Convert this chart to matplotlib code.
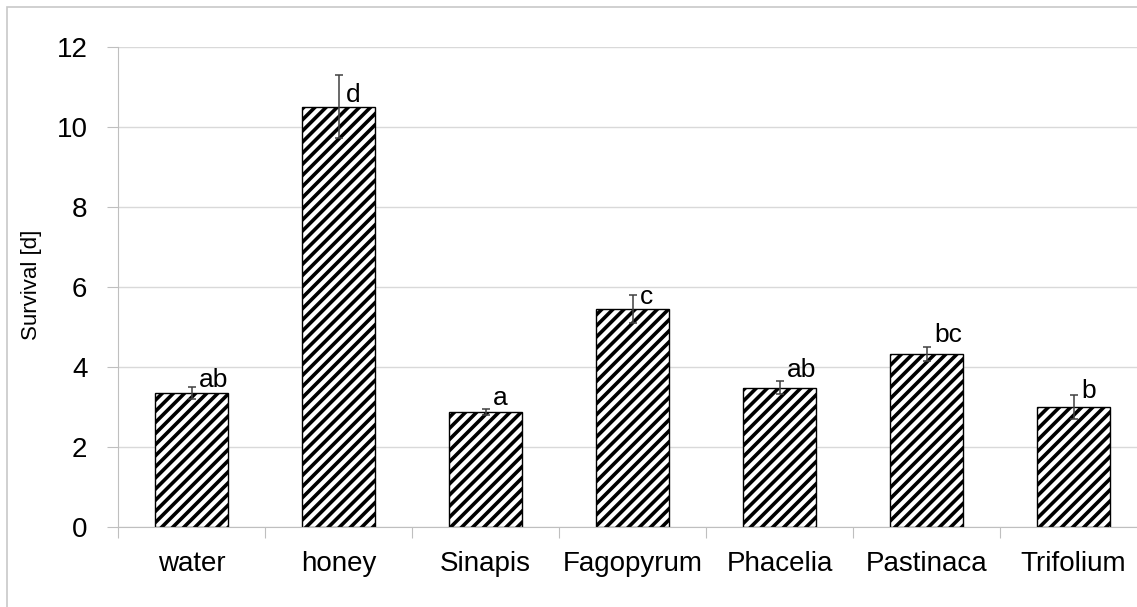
import matplotlib
matplotlib.use("Agg")
import matplotlib.pyplot as plt
from matplotlib.patches import Rectangle

categories = ["water", "honey", "Sinapis", "Fagopyrum", "Phacelia", "Pastinaca", "Trifolium"]
means = [3.36, 10.51, 2.87, 5.45, 3.48, 4.33, 3.0]
errors = [0.15, 0.78, 0.08, 0.35, 0.16, 0.17, 0.31]
letters = ["ab", "d", "a", "c", "ab", "bc", "b"]
letter_y = [3.5, 10.62, 3.05, 5.57, 3.75, 4.62, 3.22]

plt.rcParams['font.family'] = ['Liberation Sans', 'DejaVu Sans']
plt.rcParams['hatch.linewidth'] = 2.6

W, H = 1137, 607
fig = plt.figure(figsize=(W / 100, H / 100), dpi=100)
fig.patches.append(Rectangle((7 / W, -0.1), 1.2, (H - 7) / H + 0.1, transform=fig.transFigure,
                             fill=False, edgecolor='#c8c8c8', linewidth=1.2, zorder=0))

ax = fig.add_axes([118 / W, 80 / H, 1029 / W, 480 / H])
x = list(range(len(categories)))
ax.bar(x, means, width=0.5, color='white', edgecolor='black', hatch='///', linewidth=1.0, zorder=2)
ax.errorbar(x, means, yerr=errors, fmt='none', ecolor='#404040', elinewidth=1.1, capsize=3,
            capthick=1.1, zorder=3)
for xi, ly, l in zip(x, letter_y, letters):
    ax.text(xi + 0.05, ly, l, fontsize=19, ha='left', va='baseline', zorder=4)

ax.set_xlim(-0.5, len(categories) - 0.5)
ax.set_ylim(0, 12)
ax.set_yticks(range(0, 13, 2))
ax.yaxis.grid(True, color='#d9d9d9', linewidth=1.0, zorder=0)
ax.set_axisbelow(True)
ax.set_xticks([i - 0.5 for i in range(len(categories))], minor=False)
ax.set_xticklabels([])
ax.set_xticks(x, minor=True)
ax.set_xticklabels(categories, minor=True, fontsize=20)
ax.tick_params(axis='x', which='minor', length=0, pad=17)
ax.tick_params(axis='x', which='major', length=8, color='#bfbfbf', direction='out')
ax.tick_params(axis='y', length=8, color='#bfbfbf', labelsize=20, pad=14)
for s in ['top', 'right']:
    ax.spines[s].set_visible(False)
ax.spines['left'].set_color('#bfbfbf')
ax.spines['bottom'].set_color('#bfbfbf')
fig.text(31 / W, 1 - 285 / H, "Survival [d]", fontsize=16, rotation=90, ha='center', va='center')

fig.savefig("out.png", dpi=100)
